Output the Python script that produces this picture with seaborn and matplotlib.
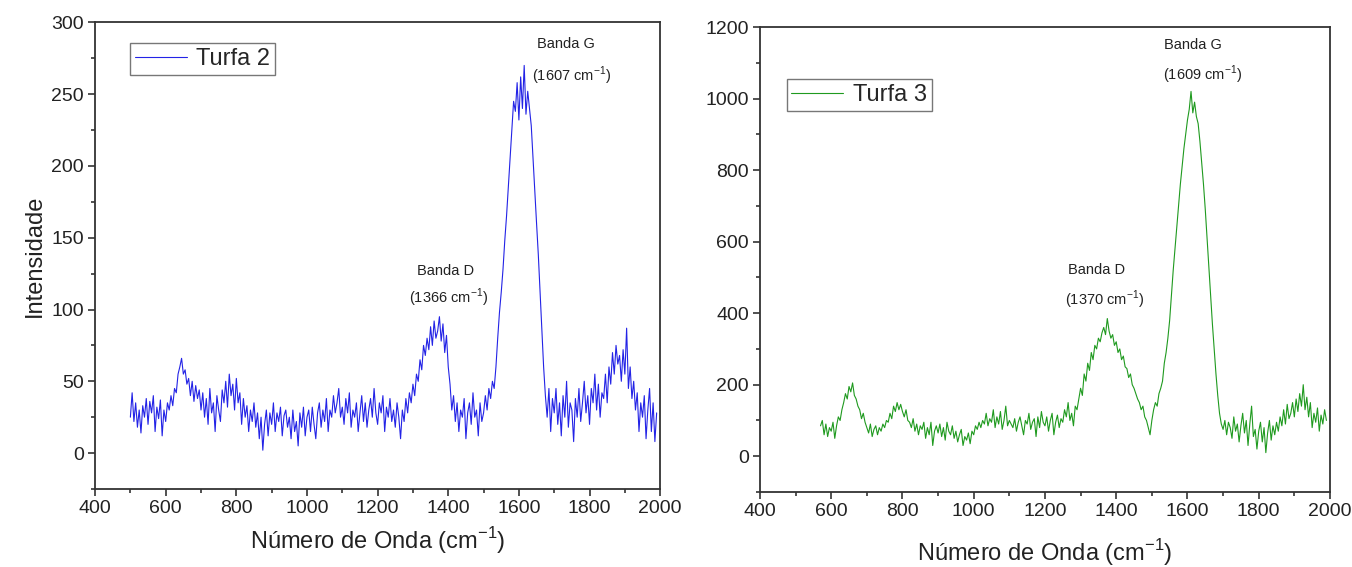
import numpy as np
import pandas as pd
import matplotlib
matplotlib.use("Agg")
import matplotlib.pyplot as plt
from matplotlib.ticker import MultipleLocator
import seaborn as sns

# ---------------- data ----------------
t2_start, t2_step = 500, 5
turfa2 = [
    25, 42, 22, 35, 18, 30, 14, 33, 25, 38,
    20, 36, 28, 40, 15, 32, 24, 37, 12, 30,
    22, 35, 30, 40, 33, 45, 42, 55, 60, 66,
    55, 58, 48, 52, 40, 50, 36, 47, 38, 44,
    30, 42, 25, 38, 20, 45, 28, 35, 15, 40,
    30, 22, 44, 35, 50, 32, 55, 40, 48, 30,
    52, 35, 42, 20, 38, 25, 33, 15, 30, 22,
    35, 18, 28, 10, 25, 2, 20, 30, 12, 28,
    20, 35, 15, 28, 22, 32, 12, 26, 30, 18,
    25, 10, 30, 15, 22, 5, 28, 18, 32, 12,
    25, 30, 15, 32, 20, 10, 28, 35, 18, 30,
    22, 38, 15, 30, 25, 40, 28, 35, 45, 25,
    32, 20, 38, 28, 42, 18, 30, 25, 35, 15,
    28, 40, 22, 35, 18, 30, 38, 25, 45, 28,
    20, 35, 28, 40, 15, 32, 25, 38, 22, 30,
    18, 35, 25, 10, 30, 22, 38, 28, 42, 35,
    48, 40, 55, 50, 65, 58, 75, 68, 80, 72,
    88, 75, 92, 80, 85, 95, 78, 90, 70, 82,
    60, 48, 30, 40, 22, 35, 15, 30, 25, 38,
    10, 28, 35, 20, 42, 25, 30, 12, 35, 22,
    28, 40, 30, 45, 38, 50, 45, 60, 80, 98,
    112, 128, 148, 165, 185, 205, 225, 245, 238, 258,
    232, 262, 240, 270, 236, 252, 240, 228, 205, 182,
    160, 138, 112, 85, 60, 40, 25, 45, 15, 38,
    28, 45, 20, 35, 12, 40, 25, 50, 18, 35,
    30, 8, 38, 25, 45, 22, 35, 50, 28, 40,
    20, 45, 35, 55, 30, 48, 25, 42, 38, 55,
    35, 60, 48, 70, 55, 75, 62, 68, 50, 72,
    55, 87, 45, 60, 38, 50, 30, 42, 15, 35,
    25, 40, 10, 30, 45, 15, 35, 8, 28,
]

t3_start, t3_step = 570, 5
turfa3 = [
    85, 100, 60, 90, 55, 80,
    70, 95, 50, 85, 110, 100, 130, 150, 175, 160,
    195, 180, 205, 170, 160, 140, 130, 105, 120, 95,
    80, 65, 90, 55, 75, 85, 60, 80, 70, 90,
    80, 100, 95, 120, 105, 140, 125, 150, 130, 145,
    125, 110, 130, 100, 95, 80, 105, 70, 90, 60,
    85, 75, 95, 50, 80, 60, 95, 30, 70, 85,
    65, 90, 55, 80, 45, 95, 70, 60, 85, 50,
    70, 40, 60, 75, 30, 55, 45, 65, 35, 70,
    60, 85, 75, 95, 80, 100, 90, 120, 85, 105,
    95, 130, 80, 110, 90, 125, 75, 100, 140, 85,
    100, 90, 80, 105, 70, 95, 110, 85, 60, 100,
    90, 120, 75, 95, 105, 55, 110, 80, 125, 95,
    85, 110, 70, 100, 120, 60, 95, 115, 80, 105,
    95, 130, 110, 150, 100, 120, 85, 140, 130, 160,
    190, 170, 230, 210, 260, 240, 290, 270, 310, 300,
    330, 320, 345, 360, 340, 385, 350, 330, 340, 310,
    320, 290, 300, 270, 280, 250, 245, 220, 230, 200,
    190, 175, 160, 150, 130, 140, 110, 100, 80, 60,
    100, 130, 150, 140, 175, 190, 210, 260, 290, 330,
    380, 450, 520, 580, 640, 700, 760, 810, 860, 900,
    940, 970, 1020, 960, 990, 950, 930, 880, 820, 760,
    690, 610, 530, 450, 370, 300, 230, 170, 120, 90,
    75, 100, 60, 95, 80, 50, 110, 70, 90, 40,
    85, 120, 65, 100, 30, 90, 140, 55, 75, 20,
    70, 95, 40, 80, 10, 65, 100, 45, 85, 60,
    95, 70, 110, 85, 130, 90, 145, 105, 120, 150,
    110, 160, 125, 175, 140, 200, 130, 165, 110, 150,
    80, 120, 95, 135, 70, 115, 90, 130, 100,
]

x_ticks = [400, 600, 800, 1000, 1200, 1400, 1600, 1800, 2000]
y2_ticks = [0, 50, 100, 150, 200, 250, 300]
y3_ticks = [0, 200, 400, 600, 800, 1000, 1200]

df2 = pd.DataFrame({"x": t2_start + t2_step * np.arange(len(turfa2)), "y": turfa2})
df3 = pd.DataFrame({"x": t3_start + t3_step * np.arange(len(turfa3)), "y": turfa3})

# ---------------- style ----------------
sns.set_style("white")
plt.rcParams["font.family"] = ["Liberation Sans", "DejaVu Sans"]
plt.rcParams["mathtext.fontset"] = "custom"
plt.rcParams["mathtext.rm"] = "Liberation Sans"

fig = plt.figure(figsize=(13.52, 5.67), dpi=100)
ax1 = fig.add_axes([0.0703, 0.1376, 0.418, 0.823])
ax2 = fig.add_axes([0.5621, 0.1323, 0.4216, 0.820])

spine_c = "#333333"

def style(ax, yt, ylim, yminor):
    ax.set_xlim(400, 2000)
    ax.set_ylim(*ylim)
    ax.set_xticks(x_ticks)
    ax.set_yticks(yt)
    ax.xaxis.set_minor_locator(MultipleLocator(100))
    ax.yaxis.set_minor_locator(MultipleLocator(yminor))
    for s in ax.spines.values():
        s.set_visible(True)
        s.set_color(spine_c)
        s.set_linewidth(1.3)
    ax.tick_params(which="both", direction="out", bottom=True, left=True,
                   top=False, right=False, color=spine_c, width=1.2)
    ax.tick_params(which="major", length=5, labelsize=14, labelcolor="#222222", pad=3)
    ax.tick_params(which="minor", length=3)

sns.lineplot(data=df2, x="x", y="y", ax=ax1, color="#2323e6", lw=0.8, label="Turfa 2")
sns.lineplot(data=df3, x="x", y="y", ax=ax2, color="#1f9a1f", lw=0.8, label="Turfa 3")

style(ax1, y2_ticks, (-25, 300), 25)
style(ax2, y3_ticks, (-100, 1200), 100)

xl = "Número de Onda (cm$^{-1}$)"
ax1.set_xlabel(xl, fontsize=17, labelpad=6, color="#222222")
ax2.set_xlabel(xl, fontsize=17, labelpad=12, color="#222222")
ax1.set_ylabel("Intensidade", fontsize=17, labelpad=4, color="#222222")
ax2.set_ylabel("")

for ax, anchor in ((ax1, (0.062, 0.955)), (ax2, (0.047, 0.888))):
    leg = ax.legend(loc="upper left", bbox_to_anchor=anchor, borderaxespad=0,
                    fontsize=17, handlelength=2.2, handletextpad=0.4,
                    fancybox=False, frameon=True, borderpad=0.2)
    leg.get_frame().set_edgecolor("#555555")
    leg.get_frame().set_linewidth(1.0)

tk = dict(fontsize=10.5, ha="center", va="center", color="#222222")
ax1.text(1734, 285, "Banda G", **tk)
ax1.text(1748, 263, "(1607 cm$^{-1}$)", **tk)
ax1.text(1391, 127, "Banda D", **tk)
ax1.text(1400, 108, "(1366 cm$^{-1}$)", **tk)
ax2.text(1615, 1150, "Banda G", **tk)
ax2.text(1643, 1066, "(1609 cm$^{-1}$)", **tk)
ax2.text(1346, 520, "Banda D", **tk)
ax2.text(1368, 436, "(1370 cm$^{-1}$)", **tk)

fig.savefig("out.png", dpi=100)
